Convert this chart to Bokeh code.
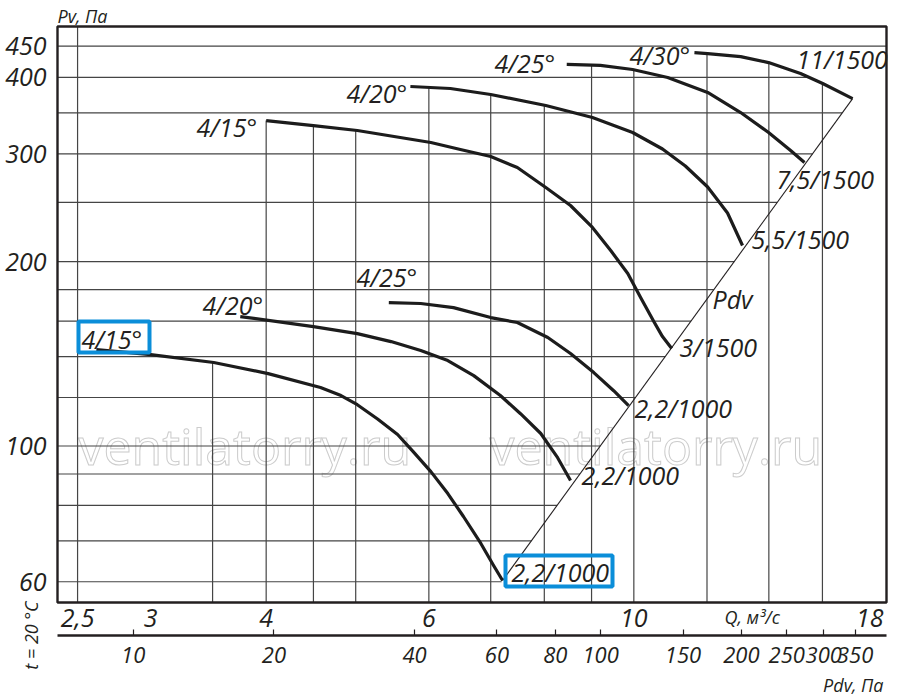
import numpy as np
from bokeh.plotting import figure
from bokeh.models import Range1d, LogScale, LogAxis, FixedTicker, Label, BoxAnnotation
from bokeh.embed import file_html
from bokeh.resources import INLINE

# ---------------- data ----------------
# 1000 rpm, 2.2 kW curves
Q_A = [2.62, 3.0, 3.51, 4.02, 4.58, 4.82, 5.02, 5.28, 5.55, 5.77, 6.03, 6.29, 6.54, 6.83, 7.05, 7.21]   # 4/15°
PV_A = [143.7, 141.0, 136.9, 131.3, 124.6, 120.9, 116.8, 110.7, 104.4, 97.9, 90.8, 83.6, 76.7, 69.3, 63.8, 60.3]
Q_B = [3.75, 4.5, 5.02, 5.46, 5.88, 6.29, 6.71, 7.17, 7.54, 7.93, 8.27, 8.54]                          # 4/20°
PV_B = [162.7, 156.7, 152.6, 148.1, 143.2, 137.9, 130.3, 120.9, 112.9, 104.8, 95.7, 87.8]
Q_C = [5.43, 5.88, 6.38, 7.0, 7.48, 8.07, 8.54, 9.05, 9.51, 9.87]                                     # 4/25°
PV_C = [171.5, 170.9, 168.3, 162.1, 159.1, 150.4, 141.6, 131.8, 123.1, 116.4]
# 1500 rpm curves
Q_D = [4.0, 4.5, 5.02, 6.03, 6.49, 7.0, 7.48, 8.03, 8.54, 9.02, 9.44, 9.85, 10.17, 10.51, 10.74, 10.99]  # 4/15°
PV_D = [340.1, 333.8, 327.6, 313.2, 305.0, 297.1, 285.0, 264.4, 247.1, 227.5, 208.6, 191.3, 174.8, 159.7, 150.9, 144.3]
Q_E = [5.73, 6.33, 7.0, 8.03, 9.02, 9.97, 10.74, 11.37, 12.02, 12.63, 13.11]                           # 4/20°
PV_E = [386.6, 383.7, 375.1, 359.9, 344.0, 325.2, 305.6, 286.7, 264.9, 240.2, 212.6]
Q_F = [8.46, 9.2, 9.97, 10.88, 12.02, 13.05, 13.99, 14.78, 15.3]                                       # 4/25°
PV_F = [420.1, 418.5, 412.1, 399.9, 378.1, 350.5, 325.2, 303.9, 290.4]
Q_G = [11.63, 12.02, 13.05, 13.99, 15.15, 16.01, 17.25]                                               # 4/30°
PV_G = [439.1, 437.6, 432.6, 423.0, 405.9, 391.0, 369.4]

Q_TICKS = [2.5, 3.0, 4.0, 6.0, 10.0, 18.0]
Q_TICK_LABELS = ["2,5", "3", "4", "6", "10", "18"]
PV_TICKS = [60.0, 100.0, 200.0, 300.0, 400.0, 450.0]
PV_TICK_LABELS = ["60", "100", "200", "300", "400", "450"]
PDV_TICKS = [10.0, 20.0, 40.0, 60.0, 80.0, 100.0, 150.0, 200.0, 250.0, 300.0, 350.0]
PDV_TICK_LABELS = ["10", "20", "40", "60", "80", "100", "150", "200", "250", "300", "350"]
Q_GRID = [2.5, 3.5, 4, 4.5, 5, 6, 7, 8, 9, 10, 12, 14, 16]
PV_GRID = [60, 70, 80, 90, 100, 120, 140, 160, 180, 200, 250, 300, 350, 400, 450]

# ---------------- plot box (value ranges) and its place on the canvas ----------------
Q_MIN, Q_MAX = 2.378, 18.77
PV_MIN, PV_MAX = 55.5, 484.5
PDV_MIN, PDV_MAX = 6.89, 408.6
W, H = 900, 697
BOX_L, BOX_T, BOX_W, BOX_H = 57, 26, 829, 576


def qx(X):
    return 10 ** (np.log10(Q_MIN) + (X - BOX_L) / BOX_W * np.log10(Q_MAX / Q_MIN))


def pdvx(X):
    return 10 ** (np.log10(PDV_MIN) + (X - BOX_L) / BOX_W * np.log10(PDV_MAX / PDV_MIN))


def pvy(Y):
    return 10 ** (np.log10(PV_MAX) - (Y - BOX_T) / BOX_H * np.log10(PV_MAX / PV_MIN))


INK = "#231f20"
FONT = "Open Sans"

# the frame fills the whole canvas; the plot box is drawn inside it
p = figure(x_axis_type="log", y_axis_type="log",
           x_range=Range1d(qx(0), qx(W)), y_range=Range1d(pvy(H), pvy(0)),
           frame_width=W, frame_height=H,
           min_border=0, min_border_left=0, min_border_right=0, min_border_top=0, min_border_bottom=0,
           output_backend="svg", toolbar_location=None,
           background_fill_color="white", border_fill_color="white")
p.title.visible = False
p.outline_line_color = None
p.xgrid.grid_line_color = None
p.ygrid.grid_line_color = None

curves = [(Q_A, PV_A), (Q_B, PV_B), (Q_C, PV_C), (Q_D, PV_D), (Q_E, PV_E), (Q_F, PV_F), (Q_G, PV_G)]

# Pdv line joins the ends of the curves (from the lowest to the highest)
PDV_Q = [Q_A[-1], Q_G[-1]]
PDV_PV = [PV_A[-1], PV_G[-1]]
pdv_slope = np.log10(PDV_PV[1] / PDV_PV[0]) / np.log10(PDV_Q[1] / PDV_Q[0])


def q_on_pdv(pv):
    return PDV_Q[0] * (pv / PDV_PV[0]) ** (1.0 / pdv_slope)


def envelope(q):
    vals = []
    for cq, cp in curves:
        if cq[0] * 0.99 <= q <= cq[-1] * 1.01:
            vals.append(10 ** np.interp(np.log10(q), np.log10(cq), np.log10(cp)))
    return max(vals) if vals else PV_MAX


def right_end(pv):
    if pv <= PDV_PV[1]:
        return q_on_pdv(pv)
    qs = []
    for cq, cp in curves:
        if min(cp) <= pv <= max(cp):
            qs.append(10 ** np.interp(np.log10(pv), np.log10(cp[::-1]), np.log10(cq[::-1])))
    return max(qs) if qs else Q_MAX


# watermark (behind everything)
for X in (78, 489):
    p.add_layout(Label(x=qx(X), y=pvy(445), text="ventilatorry.ru", text_font=FONT,
                       text_font_size="50px", text_color="white", text_outline_color="#cccccc",
                       text_align="left", text_baseline="alphabetic", level="underlay"))

# grid (only under the curves and left of the Pdv line)
gx0 = list(Q_GRID)
gy0 = [PV_MIN] * len(Q_GRID)
gx1 = list(Q_GRID)
gy1 = [envelope(q) for q in Q_GRID]
hx0 = [Q_MIN] * len(PV_GRID)
hy0 = list(PV_GRID)
hx1 = [right_end(v) for v in PV_GRID]
hy1 = list(PV_GRID)
p.segment(x0=gx0 + hx0, y0=gy0 + hy0, x1=gx1 + hx1, y1=gy1 + hy1,
          line_color="#454545", line_width=1.2)

# plot box
p.quad(left=[Q_MIN], right=[Q_MAX], bottom=[PV_MIN], top=[PV_MAX],
       fill_color=None, line_color=INK, line_width=2.4)

# Pdv line and curves
p.line(PDV_Q, PDV_PV, line_color=INK, line_width=1.1)
for cq, cp in curves:
    p.line(cq, cp, line_color="#1c1c1c", line_width=3.2, line_join="round")


def style_axis(ax, size):
    ax.minor_tick_line_color = None
    ax.major_label_text_font = FONT
    ax.major_label_text_font_style = "italic"
    ax.major_label_text_font_size = size
    ax.major_label_text_color = INK


# Q axis at the bottom of the box
xa = p.xaxis[0]
xa.fixed_location = PV_MIN
xa.bounds = (Q_MIN, Q_MAX)
xa.ticker = FixedTicker(ticks=Q_TICKS)
xa.major_label_overrides = dict(zip(Q_TICKS, Q_TICK_LABELS))
xa.axis_line_color = None
xa.major_tick_line_color = None
xa.major_label_standoff = 0
style_axis(xa, "25px")

# Pv axis at the left of the box
ya = p.yaxis[0]
ya.fixed_location = Q_MIN
ya.bounds = (PV_MIN, PV_MAX)
ya.ticker = FixedTicker(ticks=PV_TICKS)
ya.major_label_overrides = dict(zip(PV_TICKS, PV_TICK_LABELS))
ya.axis_line_color = None
ya.major_tick_line_color = None
ya.major_label_standoff = 5
style_axis(ya, "25px")

# Pdv axis, a separate scale under the Q axis
p.extra_x_ranges = {"pdv": Range1d(pdvx(0), pdvx(W))}
p.extra_x_scales = {"pdv": LogScale()}
pa = LogAxis(x_range_name="pdv", ticker=FixedTicker(ticks=PDV_TICKS),
             fixed_location=pvy(635), bounds=(PDV_MIN, PDV_MAX))
pa.major_label_overrides = dict(zip(PDV_TICKS, PDV_TICK_LABELS))
pa.axis_line_color = INK
pa.axis_line_width = 2.4
pa.major_tick_line_color = INK
pa.major_tick_line_width = 1.2
pa.major_tick_in = 6
pa.major_tick_out = 0
pa.major_label_standoff = 11
style_axis(pa, "22px")
p.add_layout(pa, "below")


def add_label(text, X, Y, align="left", size="25px", angle=0.0):
    p.add_layout(Label(x=qx(X), y=pvy(Y), text=text, text_font=FONT, text_font_size=size,
                       text_font_style="italic", text_color=INK, text_align=align,
                       text_baseline="middle", angle=angle))


curve_labels = [
    ("4/15°", 81, 338), ("4/20°", 202, 304), ("4/25°", 356, 276),
    ("4/15°", 196, 126), ("4/20°", 346, 92), ("4/25°", 494, 62), ("4/30°", 629, 54),
    ("11/1500", 796, 58), ("7,5/1500", 776, 178), ("5,5/1500", 751, 238),
    ("Pdv", 712, 298), ("3/1500", 679, 346),
    ("2,2/1000", 634, 407), ("2,2/1000", 581, 474), ("2,2/1000", 511, 571),
]
for t, X, Y in curve_labels:
    add_label(t, X, Y)

add_label("Pv, Па", 57, 15, size="18px")
add_label("Q, м³/с", 724, 616, size="18px")
add_label("Pdv, Па", 883, 684, align="right", size="18px")
add_label("t = 20 °C", 30, 635, align="center", size="18px", angle=np.pi / 2)

# highlight boxes
BLUE = "#0b8ed9"
for l, r, t, b in ((78, 149, 321, 352), (505, 612, 555, 586)):
    p.add_layout(BoxAnnotation(left=qx(l), right=qx(r), top=pvy(t), bottom=pvy(b),
                               fill_color=None, fill_alpha=0, line_color=BLUE, line_width=4,
                               line_alpha=1.0))

open("out.html", "w").write(file_html(p, INLINE))
